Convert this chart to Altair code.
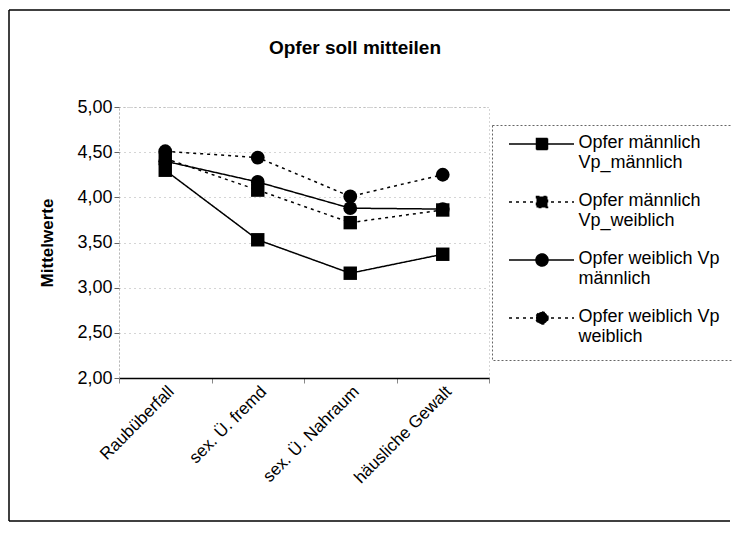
import altair as alt
import pandas as pd

categories = ["Raubüberfall", "sex. Ü. fremd", "sex. Ü. Nahraum", "häusliche Gewalt"]
series_names = [
    "Opfer männlich Vp_männlich",
    "Opfer männlich Vp_weiblich",
    "Opfer weiblich Vp männlich",
    "Opfer weiblich Vp weiblich",
]
legend_lines = {
    "Opfer männlich Vp_männlich": ["Opfer männlich", "Vp_männlich"],
    "Opfer männlich Vp_weiblich": ["Opfer männlich", "Vp_weiblich"],
    "Opfer weiblich Vp männlich": ["Opfer weiblich Vp", "männlich"],
    "Opfer weiblich Vp weiblich": ["Opfer weiblich Vp", "weiblich"],
}
values_mm = [4.30, 3.53, 3.16, 3.37]
values_mw = [4.43, 4.08, 3.72, 3.86]
values_wm = [4.40, 4.17, 3.88, 3.87]
values_ww = [4.51, 4.44, 4.01, 4.25]
y_ticks = [2.0, 2.5, 3.0, 3.5, 4.0, 4.5, 5.0]

all_values = [values_mm, values_mw, values_wm, values_ww]
rows = []
for s, vals in zip(series_names, all_values):
    for c, v in zip(categories, vals):
        rows.append({"Kategorie": c, "Serie": s, "Wert": v})
df = pd.DataFrame(rows)

FONT = "Liberation Sans"

expr_parts = []
for k, lns in legend_lines.items():
    expr_parts.append(f"datum.label === '{k}' ? ['{lns[0]}', '{lns[1]}']")
label_expr = " : ".join(expr_parts) + " : datum.label"

square_path = "M-11.9,-0.8H1.1M-6.4,-1.9H-4.2V0.3H-6.4Z"
circle_path = "M-11.9,-0.8H1.1M-4.1,-0.8A1.2,1.2,0,1,1,-6.5,-0.8A1.2,1.2,0,1,1,-4.1,-0.8Z"
legend_shapes = [square_path, square_path, circle_path, circle_path]
dash_range = [[1, 0], [3, 4], [1, 0], [3, 4]]

x_enc = alt.X(
    "Kategorie:N",
    sort=categories,
    scale=alt.Scale(type="band", paddingInner=0, paddingOuter=0),
    axis=alt.Axis(
        title=None,
        labelAngle=315,
        labelFont=FONT,
        labelFontSize=17,
        labelColor="black",
        labelPadding=0,
        tickBand="extent",
        tickSize=5,
        tickColor="#888",
        domainColor="black",
        domainWidth=1.5,
        grid=False,
    ),
)
y_enc = alt.Y(
    "Wert:Q",
    scale=alt.Scale(domain=[2, 5], nice=False, zero=False),
    axis=alt.Axis(
        title="Mittelwerte",
        titleFont=FONT,
        titleFontSize=17,
        titleFontWeight="bold",
        titleColor="black",
        titlePadding=20,
        values=y_ticks,
        labelExpr="replace(format(datum.value, '.2f'), '.', ',')",
        labelFont=FONT,
        labelFontSize=18,
        labelColor="black",
        labelPadding=2,
        tickSize=5,
        tickColor="#666",
        domainColor="#999",
        domainDash=[1, 3],
        grid=True,
        gridColor="#aaa",
        gridDash=[1, 4],
        gridWidth=1,
    ),
)

legend_def = alt.Legend(
    title=None,
    orient="none",
    legendX=373,
    legendY=18,
    padding=14,
    rowPadding=20,
    symbolSize=100,
    symbolStrokeWidth=1.5,
    symbolOpacity=1,
    symbolOffset=53.5,
    labelOffset=1,
    labelFont=FONT,
    labelFontSize=18,
    labelColor="black",
    labelLimit=400,
    labelBaseline="alphabetic",
    labelExpr=label_expr,
    strokeColor="#666",
)

legend_layer = alt.Chart(df).mark_point(
    filled=True, fill="black", stroke="black", strokeWidth=1.5, opacity=0
).encode(
    x=x_enc,
    y=y_enc,
    shape=alt.Shape("Serie:N", scale=alt.Scale(domain=series_names, range=legend_shapes), legend=legend_def),
    strokeDash=alt.StrokeDash("Serie:N", scale=alt.Scale(domain=series_names, range=dash_range), legend=legend_def),
)

lines = alt.Chart(df).mark_line(color="black", strokeWidth=1.5).encode(
    x=x_enc,
    y=y_enc,
    detail="Serie:N",
    strokeDash=alt.StrokeDash("Serie:N", scale=alt.Scale(domain=series_names, range=dash_range), legend=legend_def),
)

circles = (
    alt.Chart(df)
    .transform_filter(alt.FieldOneOfPredicate(field="Serie", oneOf=series_names[2:]))
    .mark_point(shape="circle", filled=True, color="black", size=190, opacity=1)
    .encode(x=x_enc, y=y_enc, detail="Serie:N")
)
squares = (
    alt.Chart(df)
    .transform_filter(alt.FieldOneOfPredicate(field="Serie", oneOf=series_names[:2]))
    .mark_point(shape="square", filled=True, color="black", size=180, opacity=1)
    .encode(x=x_enc, y=y_enc, detail="Serie:N")
)

one = pd.DataFrame({"f": [0]})
frame_left = alt.Chart(one).mark_rule(color="black", strokeWidth=1.5).encode(
    x=alt.value(-110), y=alt.value(-97), y2=alt.value(414)
)
frame_top = alt.Chart(one).mark_rule(color="black", strokeWidth=1.5).encode(
    x=alt.value(-110), x2=alt.value(611), y=alt.value(-97)
)
frame_bottom = alt.Chart(one).mark_rule(color="black", strokeWidth=1.5).encode(
    x=alt.value(-110), x2=alt.value(611), y=alt.value(414)
)

chart = (
    alt.layer(frame_left, frame_top, frame_bottom, legend_layer, lines, circles, squares)
    .properties(
        width=370,
        height=271,
        padding={"left": 111, "top": 99, "right": 243, "bottom": 144},
        autosize=alt.AutoSizeParams(type="none"),
        title=alt.Title(
            "Opfer soll mitteilen",
            font=FONT,
            fontSize=19,
            fontWeight="bold",
            color="black",
            anchor="middle",
            frame="group",
            baseline="alphabetic",
            dx=51,
            dy=64,
            offset=0,
        ),
    )
    .configure_view(stroke="#aaa", strokeDash=[1, 3], strokeWidth=1)
    .configure_legend(strokeDash=[2, 2], strokeWidth=1)
)

chart.save("out.html", embed_options={"renderer": "svg", "actions": False})
